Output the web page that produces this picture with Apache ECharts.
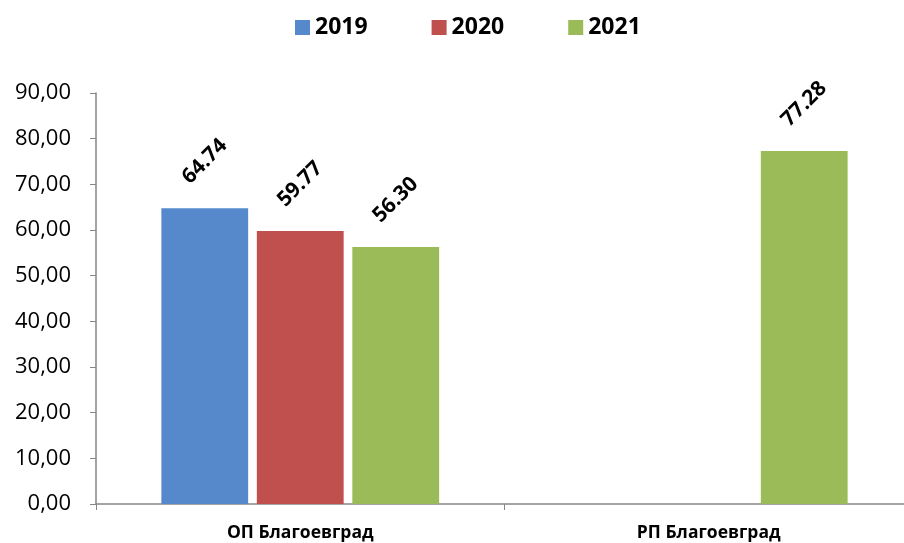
<!DOCTYPE html>
<html>
<head>
<meta charset="utf-8">
<script src="https://cdn.jsdelivr.net/npm/echarts@6/dist/echarts.min.js"></script>
<style>
html,body{margin:0;padding:0;background:#fff;overflow:hidden;width:904px;height:543px;}
#chart{width:930px;height:543px;}
</style>
</head>
<body>
<div id="chart"></div>
<script>
const categories = ['ОП Благоевград', 'РП Благоевград'];
const seriesNames = ['2019', '2020', '2021'];
const values2019 = [64.74, null];
const values2020 = [59.77, null];
const values2021 = [56.30, 77.28];
const colors = ['#5589CB', '#C0504D', '#9BBB59'];
const yMin = 0, yMax = 90, yStep = 10;

const font = '"Open Sans", "Noto Sans", sans-serif';
const chart = echarts.init(document.getElementById('chart'), null, {renderer: 'canvas'});

function mk(name, data, color) {
  return {
    name: name,
    type: 'bar',
    data: data,
    barGap: '10%',
    barCategoryGap: '32%',
    itemStyle: {color: color},
    label: {
      show: true,
      position: 'top',
      distance: 47,
      rotate: 45,
      align: 'center',
      verticalAlign: 'middle',
      fontFamily: font,
      fontWeight: 'bold',
      fontSize: 21,
      color: '#000',
      formatter: p => p.value == null ? '' : Number(p.value).toFixed(2)
    }
  };
}

chart.setOption({
  animation: false,
  backgroundColor: '#fff',
  color: colors,
  legend: {
    left: 290,
    top: 11,
    itemWidth: 15,
    itemHeight: 15,
    itemGap: 64,
    icon: 'rect',
    textStyle: {fontFamily: font, fontWeight: 'bold', fontSize: 23, color: '#000'},
    data: seriesNames
  },
  grid: {left: 96, top: 93, right: 17, bottom: 39, containLabel: false},
  xAxis: {
    type: 'category',
    data: categories,
    axisLine: {lineStyle: {color: '#868686', width: 1.5}},
    axisTick: {show: true, length: 6, lineStyle: {color: '#868686'}},
    axisLabel: {fontFamily: font, fontWeight: 'bold', fontSize: 17.5, color: '#000', margin: 20}
  },
  yAxis: {
    type: 'value',
    min: yMin, max: yMax, interval: yStep,
    splitLine: {show: false},
    axisLine: {show: true, lineStyle: {color: '#868686', width: 1.5}},
    axisTick: {show: true, length: 6, lineStyle: {color: '#868686'}},
    axisLabel: {
      fontFamily: font, fontSize: 22, color: '#000', margin: 25,
      formatter: v => v.toFixed(2).replace('.', ',')
    }
  },
  series: [
    mk(seriesNames[0], values2019, colors[0]),
    mk(seriesNames[1], values2020, colors[1]),
    mk(seriesNames[2], values2021, colors[2])
  ]
});
</script>
</body>
</html>
